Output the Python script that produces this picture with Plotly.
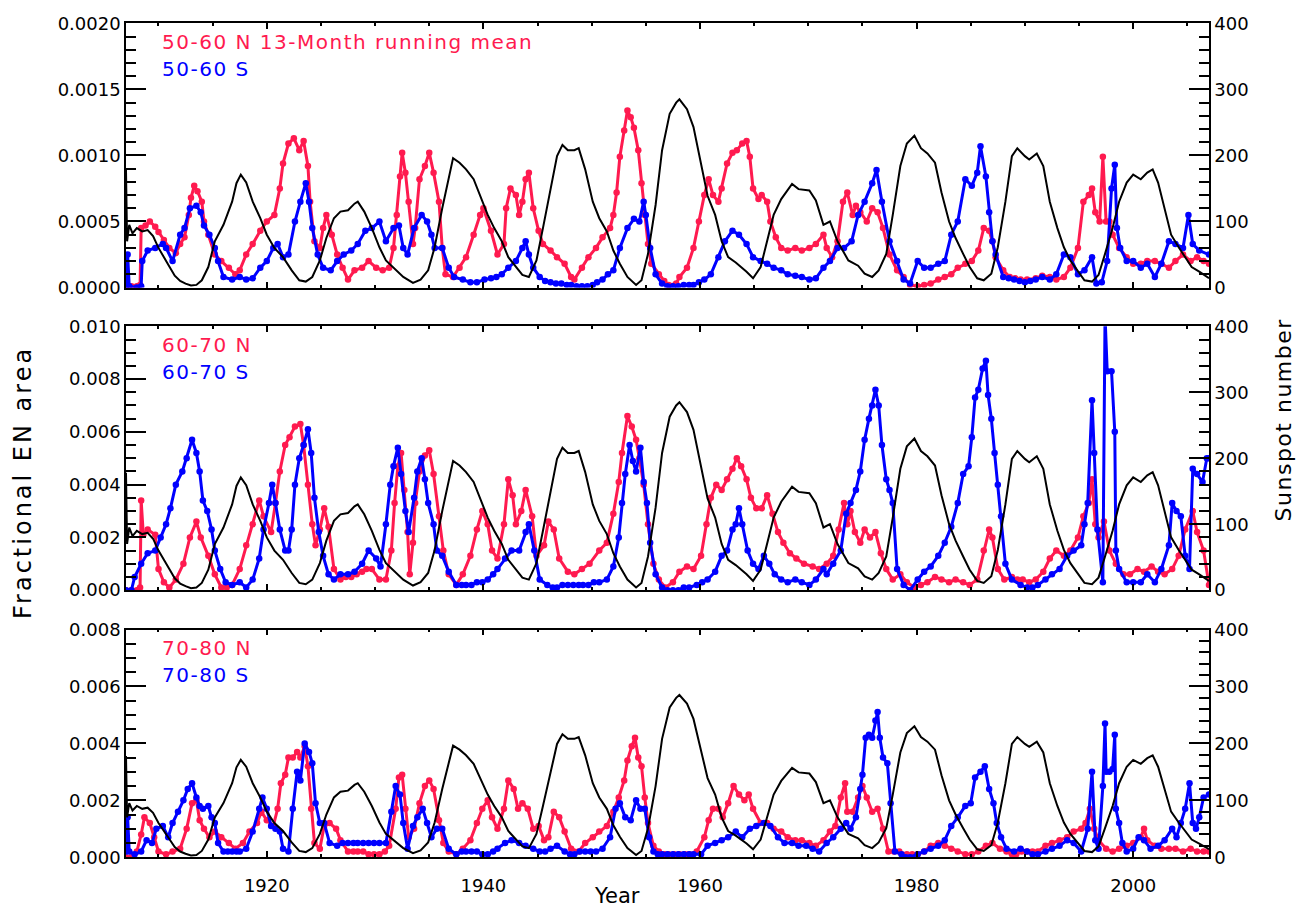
import plotly.graph_objects as go

# ---------------- data ----------------
# 13-month running-mean sunspot number (right axis, 0-400) as (year, value)
ssn = [(1907.0,178),(1907.1,70),(1907.3,95),(1907.6,82),(1908.0,90),(1908.5,85),(1909.0,87),(1909.5,78),
       (1910.0,60),(1910.5,45),(1911.0,32),(1911.5,18),(1912.0,10),(1912.5,6),(1913.0,3),(1913.5,4),
       (1914.0,11),(1914.6,31),(1915.2,70),(1916.0,95),(1916.8,130),(1917.2,158),(1917.6,171),(1918.1,159),
       (1918.7,130),(1919.4,105),(1920.0,80),(1920.7,60),(1921.5,46),(1922.3,26),(1923.0,11),(1923.6,9),
       (1924.2,16),(1924.9,41),(1925.5,75),(1926.2,105),(1926.8,115),(1927.5,117),(1928.1,127),(1928.4,130),
       (1929.0,115),(1929.7,90),(1930.4,61),(1931.0,41),(1932.0,26),(1932.6,16),(1933.5,7),(1934.2,12),
       (1934.9,26),(1935.5,61),(1936.2,120),(1936.8,169),(1937.2,196),(1937.8,189),(1938.4,179),(1939.1,164),
       (1939.7,139),(1940.4,110),(1941.0,90),(1941.7,70),(1942.3,46),(1943.0,31),(1943.6,19),(1944.2,16),
       (1944.9,41),(1945.5,90),(1946.2,149),(1946.8,199),(1947.3,216),(1947.8,208),(1948.4,208),(1948.8,211),
       (1949.4,179),(1950.1,130),(1950.7,105),(1951.4,85),(1952.0,56),(1952.6,36),(1953.3,16),(1954.1,4),
       (1954.6,11),(1955.2,51),(1955.9,125),(1956.5,208),(1957.2,263),(1957.8,280),(1958.1,285),(1958.8,270),
       (1959.4,243),(1960.1,184),(1960.7,139),(1961.4,110),(1962.0,70),(1962.6,46),(1963.3,38),(1964.3,24),
       (1964.9,14),(1965.6,31),(1966.2,70),(1966.8,110),(1967.5,134),(1968.5,157),(1969.1,149),(1970.1,147),
       (1970.7,132),(1971.4,95),(1972.0,100),(1972.7,70),(1973.7,41),(1974.6,33),(1975.2,21),(1975.9,16),
       (1976.5,26),(1977.2,51),(1977.8,110),(1978.5,184),(1979.1,218),(1979.8,230),(1980.4,211),(1981.0,203),
       (1981.7,189),(1982.3,144),(1983.0,100),(1983.6,75),(1984.3,51),(1984.9,31),(1985.6,14),(1986.2,11),
       (1986.9,21),(1987.5,61),(1988.2,130),(1988.8,199),(1989.3,211),(1990.0,199),(1990.4,194),(1991.1,203),
       (1991.7,184),(1992.3,130),(1993.0,90),(1993.6,61),(1994.2,41),(1994.9,24),(1995.5,11),(1996.2,9),
       (1996.8,19),(1997.4,51),(1998.1,90),(1998.7,130),(1999.4,159),(2000.0,171),(2000.7,164),(2001.3,174),
       (2001.8,179),(2002.3,159),(2002.9,120),(2003.5,80),(2004.2,61),(2004.8,46),(2005.4,31),(2006.1,24),
       (2007.0,14)]

# 50-60 deg, units of 1e-4
n50_60 = [(1907.0,0.1),(1907.5,0.1),(1908.0,0.1),(1908.3,0.2),(1908.4,4.5),(1908.8,4.7),(1909.2,5.0),(1909.7,4.6),
          (1910.0,4.2),(1910.5,3.6),(1911.0,3.0),(1911.6,2.6),(1912.0,3.3),(1912.4,3.8),(1912.8,5.5),(1913.0,6.8),
          (1913.3,7.7),(1913.6,7.3),(1914.0,6.5),(1914.2,5.0),(1914.6,4.0),(1915.2,2.5),(1915.8,2.0),(1916.5,1.5),
          (1917.1,1.0),(1917.5,1.3),(1918.1,2.5),(1918.7,3.3),(1919.4,4.3),(1920.0,5.0),(1920.7,5.5),(1921.2,7.5),
          (1921.5,9.4),(1922.0,10.9),(1922.5,11.3),(1923.0,10.4),(1923.4,11.1),(1923.8,9.2),(1924.0,6.5),(1924.4,3.5),
          (1924.9,3.0),(1925.2,4.5),(1925.5,5.5),(1926.0,4.0),(1926.5,2.5),(1927.0,1.5),(1927.5,0.6),(1928.1,1.3),
          (1928.8,1.5),(1929.4,2.0),(1930.1,1.5),(1930.7,1.3),(1931.3,1.5),(1931.7,3.0),(1932.0,5.5),(1932.3,8.4),
          (1932.5,10.2),(1932.8,8.7),(1933.1,6.5),(1933.5,3.3),(1933.7,4.5),(1934.1,8.2),(1934.6,9.2),(1935.0,10.2),
          (1935.4,8.7),(1935.9,6.5),(1936.2,3.0),(1936.5,1.0),(1937.2,0.8),(1937.8,1.5),(1938.4,2.3),(1939.1,4.0),
          (1939.7,5.5),(1940.0,6.0),(1940.7,4.3),(1941.3,2.5),(1941.9,3.3),(1942.1,6.0),(1942.5,7.5),(1943.0,7.0),
          (1943.3,5.5),(1943.6,6.5),(1943.9,8.2),(1944.2,8.7),(1944.6,6.0),(1945.1,4.3),(1945.5,3.3),(1946.2,2.8),
          (1946.8,2.3),(1947.5,1.8),(1948.1,0.8),(1948.4,0.6),(1949.1,1.5),(1949.7,2.3),(1950.4,3.0),(1951.0,3.8),
          (1951.7,4.5),(1952.0,5.5),(1952.3,7.2),(1952.6,9.9),(1953.0,11.9),(1953.3,13.4),(1953.6,12.9),(1953.9,12.1),
          (1954.3,10.4),(1954.6,7.9),(1954.9,5.5),(1955.2,3.3),(1955.5,1.8),(1956.2,1.0),(1956.7,0.5),(1957.1,0.2),
          (1957.8,0.3),(1958.1,0.8),(1958.8,1.5),(1959.4,3.0),(1959.9,5.0),(1960.4,7.0),(1960.8,8.2),(1961.2,7.0),
          (1961.7,6.5),(1962.0,7.5),(1962.5,9.4),(1963.0,10.2),(1963.4,10.4),(1963.9,10.9),(1964.3,11.1),(1964.6,9.9),
          (1964.9,7.5),(1965.4,6.7),(1965.7,7.0),(1966.2,6.5),(1966.5,5.0),(1967.0,3.8),(1967.5,3.0),(1968.1,2.8),
          (1968.8,3.0),(1969.4,2.8),(1970.1,3.0),(1970.7,3.3),(1971.4,4.0),(1971.7,3.0),(1972.2,2.3),(1972.7,3.5),
          (1973.2,6.5),(1973.6,7.2),(1974.1,5.5),(1974.4,6.2),(1974.8,5.7),(1975.4,5.0),(1975.9,6.0),(1976.4,5.7),
          (1976.9,4.5),(1977.5,2.5),(1978.2,1.3),(1978.8,0.8),(1979.4,0.2),(1980.1,0.1),(1980.7,0.2),(1981.3,0.3),
          (1982.0,0.6),(1982.6,0.8),(1983.2,1.0),(1983.8,1.5),(1984.5,1.8),(1985.1,2.0),(1985.7,2.8),(1986.2,4.5),
          (1986.7,4.3),(1987.0,3.5),(1987.3,2.3),(1988.0,1.3),(1988.6,0.8),(1989.1,0.7),(1989.6,0.6),(1990.2,0.6),
          (1991.0,0.7),(1991.6,0.9),(1992.3,0.8),(1992.9,0.6),(1993.6,0.8),(1994.2,1.5),(1994.9,3.0),(1995.4,6.5),
          (1995.9,7.0),(1996.2,7.5),(1996.5,5.7),(1996.9,5.0),(1997.2,9.9),(1997.5,5.0),(1997.8,5.0),(1998.1,4.0),
          (1998.7,3.0),(1999.4,2.3),(2000.0,1.8),(2000.7,1.8),(2001.3,2.0),(2002.0,2.0),(2002.6,1.8),(2003.3,1.5),
          (2003.9,2.0),(2004.6,2.5),(2005.3,2.0),(2005.9,2.3),(2006.5,2.0),(2007.0,1.8)]

s50_60 = [(1907.0,0.1),(1907.15,2.5),(1907.3,0.1),(1908.0,0.0),(1908.4,0.1),(1908.5,2.0),(1909.0,2.8),(1909.7,3.0),
          (1910.4,3.3),(1910.7,3.0),(1911.3,2.0),(1912.0,4.0),(1912.4,4.5),(1912.9,6.0),(1913.5,6.2),(1913.9,5.7),
          (1914.2,4.7),(1914.7,4.0),(1915.2,3.0),(1915.5,2.0),(1916.0,0.8),(1916.8,0.6),(1917.5,0.8),(1918.1,0.6),
          (1918.7,0.7),(1919.4,1.5),(1920.0,2.0),(1920.6,3.0),(1921.0,3.3),(1921.5,2.3),(1922.0,2.5),(1922.6,5.0),
          (1923.1,6.5),(1923.6,7.9),(1923.9,6.5),(1924.2,4.5),(1924.7,2.5),(1925.2,1.5),(1925.9,1.3),(1926.5,2.0),
          (1927.1,2.5),(1927.8,2.8),(1928.4,3.3),(1929.1,4.3),(1929.7,4.5),(1930.4,5.0),(1931.0,3.5),(1931.7,4.5),
          (1932.2,4.7),(1932.6,3.0),(1933.0,2.5),(1933.6,4.5),(1934.3,5.5),(1934.8,5.0),(1935.2,4.0),(1935.5,3.0),
          (1936.2,3.0),(1936.8,1.5),(1937.3,0.8),(1938.1,0.6),(1938.8,0.4),(1939.4,0.4),(1940.1,0.6),(1940.7,0.7),
          (1941.2,0.8),(1941.7,1.0),(1942.3,1.5),(1943.0,2.0),(1943.6,3.0),(1943.9,3.5),(1944.2,2.5),(1944.6,1.5),
          (1945.2,0.8),(1945.7,0.5),(1946.2,0.4),(1946.7,0.3),(1947.2,0.3),(1947.7,0.2),(1948.1,0.2),(1948.6,0.1),
          (1949.1,0.1),(1949.6,0.1),(1950.1,0.2),(1950.5,0.4),(1951.0,0.6),(1951.5,1.0),(1952.0,1.3),(1952.6,3.0),
          (1953.3,4.5),(1953.9,5.2),(1954.4,5.0),(1954.8,6.5),(1955.0,5.5),(1955.4,3.0),(1955.9,1.0),(1956.5,0.3),
          (1957.0,0.1),(1957.5,0.1),(1958.0,0.1),(1958.5,0.2),(1959.0,0.2),(1959.4,0.2),(1959.9,0.4),(1960.4,0.6),
          (1961.0,1.0),(1961.7,2.3),(1962.3,3.5),(1963.0,4.3),(1963.6,4.0),(1964.3,3.3),(1964.9,2.3),(1965.6,2.0),
          (1966.2,1.8),(1966.8,1.5),(1967.5,1.3),(1968.1,1.0),(1968.8,0.9),(1969.4,0.8),(1970.1,0.6),(1970.7,0.7),
          (1971.4,1.5),(1972.0,2.0),(1972.7,3.0),(1973.3,3.0),(1974.0,3.5),(1974.6,5.5),(1975.2,6.5),(1975.9,7.9),
          (1976.3,8.9),(1976.8,6.5),(1977.5,3.5),(1978.2,2.0),(1978.8,0.6),(1979.4,0.3),(1980.1,2.0),(1980.7,1.5),
          (1981.3,1.5),(1982.0,1.8),(1982.6,2.0),(1983.2,4.0),(1983.8,5.0),(1984.5,8.2),(1985.1,7.7),(1985.6,8.7),
          (1985.9,10.7),(1986.4,8.4),(1986.7,5.7),(1987.0,3.5),(1987.3,2.5),(1988.0,0.8),(1988.5,0.7),(1989.0,0.6),
          (1989.5,0.5),(1990.0,0.4),(1990.5,0.5),(1991.0,0.6),(1991.6,0.8),(1992.3,0.6),(1992.9,1.0),(1993.6,2.5),
          (1994.2,2.3),(1994.9,1.0),(1995.5,1.3),(1996.2,2.3),(1996.6,0.3),(1997.1,0.4),(1997.6,2.0),(1998.0,7.5),
          (1998.3,9.3),(1998.5,4.5),(1998.8,3.0),(1999.4,2.0),(2000.0,2.0),(2000.7,1.5),(2001.3,1.8),(2002.0,0.8),
          (2002.6,1.8),(2003.3,3.5),(2003.9,3.3),(2004.6,3.0),(2005.1,5.5),(2005.5,3.3),(2006.1,2.8),(2007.0,2.5)]

# 60-70 deg, units of 1e-3
n60_70 = [(1907.0,0.0),(1907.5,0.0),(1908.0,0.0),(1908.3,0.1),(1908.4,3.4),(1908.6,2.1),(1909.0,2.3),(1909.7,2.1),
          (1910.0,0.8),(1910.5,0.3),(1911.0,0.1),(1911.6,0.4),(1912.3,1.0),(1912.9,2.0),(1913.5,2.6),(1913.9,2.0),
          (1914.6,1.3),(1915.2,0.6),(1915.8,0.1),(1916.3,0.1),(1916.8,0.2),(1917.5,0.8),(1918.1,1.7),(1918.7,2.5),
          (1919.3,3.4),(1919.7,2.8),(1920.4,2.2),(1920.8,3.3),(1921.2,4.5),(1921.7,5.5),(1922.1,5.8),(1922.6,6.2),
          (1923.1,6.3),(1923.4,5.5),(1923.8,4.0),(1924.2,2.5),(1924.5,1.7),(1924.9,2.3),(1925.3,3.1),(1925.7,2.4),
          (1926.2,0.8),(1926.8,0.4),(1927.3,0.5),(1927.8,0.5),(1928.3,0.6),(1928.8,0.7),(1929.2,0.8),(1929.7,0.8),
          (1930.4,0.4),(1931.0,0.4),(1931.5,1.5),(1931.8,3.3),(1932.1,4.7),(1932.4,5.2),(1932.7,3.8),(1933.0,2.2),
          (1933.2,0.6),(1933.5,1.8),(1933.7,3.3),(1934.1,4.5),(1934.6,5.1),(1935.0,5.3),(1935.4,4.4),(1935.9,2.8),
          (1936.3,1.5),(1936.8,0.6),(1937.5,0.2),(1938.1,0.6),(1938.8,1.3),(1939.4,2.3),(1939.9,3.0),(1940.4,2.5),
          (1940.8,1.5),(1941.3,1.2),(1941.9,2.5),(1942.3,4.2),(1942.7,3.6),(1943.0,2.5),(1943.5,3.0),(1943.9,3.8),
          (1944.5,2.8),(1944.9,1.3),(1945.6,1.7),(1946.0,2.6),(1946.5,2.3),(1947.0,1.2),(1947.8,0.7),(1948.4,0.6),
          (1949.1,0.8),(1949.8,1.0),(1950.7,1.5),(1951.4,1.8),(1952.0,2.9),(1952.5,4.1),(1952.8,5.2),(1953.3,6.6),
          (1953.7,6.2),(1954.1,5.7),(1954.4,5.0),(1954.8,4.0),(1955.2,2.5),(1955.7,1.0),(1956.2,0.4),(1956.8,0.1),
          (1957.5,0.3),(1958.1,0.7),(1958.8,0.9),(1959.4,0.8),(1960.1,1.3),(1960.6,2.5),(1961.0,3.5),(1961.5,4.0),
          (1962.0,3.8),(1962.5,4.2),(1963.0,4.6),(1963.4,5.0),(1963.8,4.7),(1964.3,4.2),(1964.7,3.5),(1965.2,3.1),
          (1965.7,3.1),(1966.2,3.6),(1966.7,2.9),(1967.2,2.2),(1967.7,1.8),(1968.3,1.4),(1968.9,1.2),(1969.6,1.0),
          (1970.4,0.9),(1971.0,0.8),(1971.7,1.0),(1972.3,1.3),(1972.8,2.3),(1973.3,3.3),(1973.6,2.5),(1973.9,3.0),
          (1974.3,2.2),(1974.8,1.8),(1975.2,2.3),(1975.7,2.0),(1976.2,2.2),(1976.7,1.4),(1977.2,0.8),(1977.8,0.4),
          (1978.5,0.6),(1979.1,0.3),(1979.8,0.1),(1980.4,0.2),(1981.0,0.3),(1981.7,0.5),(1982.3,0.4),(1983.0,0.3),
          (1983.6,0.4),(1984.3,0.3),(1984.9,0.2),(1985.6,0.4),(1986.2,1.5),(1986.7,2.3),(1987.0,2.0),(1987.5,0.8),
          (1988.1,0.4),(1988.8,0.5),(1989.3,0.4),(1989.8,0.4),(1990.4,0.3),(1991.0,0.4),(1991.7,0.7),(1992.3,1.2),
          (1992.9,1.5),(1993.6,1.3),(1994.2,1.5),(1994.9,2.0),(1995.4,2.8),(1995.9,3.3),(1996.2,4.2),(1996.5,2.5),
          (1996.8,2.0),(1997.3,2.6),(1997.8,1.5),(1998.4,1.0),(1999.1,0.6),(1999.7,0.6),(2000.4,0.8),(2001.0,0.7),
          (2001.7,0.9),(2002.3,0.7),(2002.9,0.6),(2003.6,0.8),(2004.2,1.3),(2004.8,2.3),(2005.5,3.0),(2005.9,2.2),
          (2006.5,1.5),(2007.0,0.2)]

s60_70 = [(1907.0,0.0),(1907.5,0.0),(1907.8,0.5),(1908.4,1.0),(1909.0,1.4),(1909.7,1.5),(1910.2,2.0),(1910.7,2.5),
          (1911.1,3.1),(1911.6,4.0),(1912.2,4.5),(1912.6,5.0),(1913.1,5.7),(1913.5,5.2),(1913.8,4.5),(1914.1,3.4),
          (1914.5,3.0),(1914.9,2.3),(1915.2,1.5),(1915.7,0.8),(1916.2,0.3),(1916.8,0.2),(1917.5,0.3),(1918.1,0.1),
          (1918.7,0.4),(1919.3,1.2),(1919.7,2.3),(1920.2,3.3),(1920.5,4.0),(1920.8,3.3),(1921.2,2.3),(1921.7,1.5),
          (1922.0,1.5),(1922.3,2.3),(1922.6,4.0),(1923.0,5.0),(1923.4,5.5),(1923.8,6.1),(1924.1,5.2),(1924.4,3.5),
          (1924.8,2.2),(1925.2,1.3),(1925.7,0.6),(1926.2,0.4),(1926.8,0.6),(1927.5,0.6),(1928.1,0.7),(1928.8,1.0),
          (1929.4,1.5),(1930.1,1.2),(1930.5,0.9),(1931.0,2.5),(1931.4,4.0),(1931.7,4.7),(1932.1,5.4),(1932.4,4.4),
          (1932.8,3.0),(1933.1,2.2),(1933.6,3.5),(1933.9,4.5),(1934.3,5.0),(1934.6,4.2),(1934.9,3.3),(1935.4,2.5),
          (1935.7,1.5),(1936.2,1.3),(1936.8,0.7),(1937.5,0.2),(1938.0,0.2),(1938.4,0.2),(1938.9,0.2),(1939.4,0.3),
          (1939.9,0.3),(1940.4,0.4),(1940.9,0.6),(1941.3,0.8),(1942.0,1.2),(1942.6,1.5),(1943.3,1.5),(1943.9,2.2),
          (1944.2,2.5),(1944.7,1.5),(1945.2,0.4),(1945.9,0.2),(1946.4,0.1),(1946.8,0.1),(1947.3,0.2),(1947.8,0.2),
          (1948.3,0.2),(1948.8,0.2),(1949.2,0.2),(1949.7,0.2),(1950.2,0.3),(1950.7,0.3),(1951.4,0.4),(1952.0,0.9),
          (1952.5,2.0),(1952.8,3.3),(1953.1,4.4),(1953.5,5.5),(1953.8,4.9),(1954.1,4.5),(1954.5,5.4),(1954.8,4.1),
          (1955.1,3.3),(1955.4,1.8),(1955.9,0.6),(1956.5,0.1),(1957.0,0.0),(1957.5,0.0),(1958.0,0.0),(1958.5,0.1),
          (1959.0,0.1),(1959.7,0.2),(1960.2,0.3),(1960.7,0.4),(1961.4,0.7),(1962.0,1.3),(1962.5,1.5),(1963.0,2.3),
          (1963.3,2.5),(1963.6,3.1),(1963.9,2.5),(1964.4,1.5),(1964.9,1.0),(1965.4,0.8),(1965.9,1.3),(1966.4,1.0),
          (1966.9,0.6),(1967.5,0.4),(1968.1,0.3),(1968.8,0.4),(1969.4,0.3),(1970.1,0.2),(1970.7,0.4),(1971.4,0.8),
          (1971.7,0.6),(1972.3,1.0),(1973.0,1.5),(1973.5,2.9),(1973.9,3.3),(1974.4,3.8),(1974.8,4.5),(1975.2,5.7),
          (1975.6,6.5),(1975.9,7.0),(1976.2,7.6),(1976.5,7.0),(1976.8,5.5),(1977.2,4.2),(1977.5,3.8),(1977.8,3.3),
          (1978.2,0.8),(1978.8,0.2),(1979.4,0.0),(1980.1,0.4),(1980.7,0.7),(1981.3,0.9),(1982.0,1.3),(1982.6,1.8),
          (1983.2,2.4),(1983.8,3.3),(1984.3,4.4),(1984.8,4.7),(1985.1,5.8),(1985.4,7.3),(1985.7,7.6),(1986.1,8.4),
          (1986.4,8.7),(1986.6,7.4),(1986.9,6.5),(1987.2,5.2),(1987.5,4.0),(1987.8,2.8),(1988.2,1.0),(1988.8,0.4),
          (1989.6,0.2),(1990.2,0.1),(1990.7,0.1),(1991.2,0.2),(1991.9,0.4),(1992.5,0.6),(1993.2,0.8),(1993.9,1.3),
          (1994.5,1.5),(1995.2,1.7),(1995.5,2.5),(1995.8,3.3),(1996.2,7.2),(1996.4,5.2),(1996.7,2.3),(1997.2,0.3),
          (1997.4,10.4),(1997.6,8.3),(1998.0,8.3),(1998.3,6.0),(1998.4,1.5),(1998.7,0.8),(1999.4,0.3),(2000.0,0.3),
          (2000.7,0.3),(2001.3,0.6),(2002.0,0.3),(2002.6,0.8),(2003.3,1.7),(2003.6,3.3),(2004.0,3.0),(2004.4,2.8),
          (2004.8,1.3),(2005.2,0.8),(2005.5,4.6),(2005.9,4.4),(2006.4,4.1),(2006.8,5.0),(2007.0,5.0)]

# 70-80 deg, units of 1e-3
n70_80 = [(1907.0,0.0),(1907.5,0.0),(1908.0,0.2),(1908.4,0.8),(1908.7,1.4),(1909.2,1.2),(1909.6,0.7),(1910.0,0.2),
          (1910.7,0.1),(1911.3,0.2),(1912.0,0.3),(1912.6,1.0),(1913.1,1.9),(1913.5,2.0),(1913.8,1.3),(1914.2,1.0),
          (1914.7,0.7),(1915.2,0.9),(1915.8,0.7),(1916.5,0.5),(1917.1,0.3),(1917.8,0.5),(1918.4,0.9),(1919.1,1.2),
          (1919.5,1.6),(1920.0,1.3),(1920.6,1.1),(1921.0,1.7),(1921.3,2.6),(1921.7,2.9),(1922.0,3.5),(1922.4,3.5),
          (1922.8,3.7),(1923.1,3.5),(1923.5,3.9),(1923.8,3.2),(1924.1,1.7),(1924.4,0.5),(1924.9,0.3),(1925.3,1.1),
          (1925.8,1.2),(1926.4,1.0),(1926.8,0.6),(1927.5,0.2),(1928.0,0.2),(1928.4,0.2),(1928.9,0.2),(1929.4,0.1),
          (1929.9,0.1),(1930.4,0.1),(1930.9,0.2),(1931.3,0.4),(1931.9,1.7),(1932.2,2.8),(1932.5,2.9),(1932.8,1.7),
          (1933.1,0.7),(1933.6,1.0),(1934.1,1.9),(1934.6,2.5),(1935.0,2.7),(1935.4,2.4),(1935.9,1.3),(1936.3,0.5),
          (1936.8,0.2),(1937.5,0.1),(1938.1,0.3),(1938.8,0.6),(1939.4,1.2),(1939.9,1.7),(1940.4,2.0),(1940.8,1.4),
          (1941.3,1.0),(1941.9,1.7),(1942.3,2.7),(1942.8,2.4),(1943.2,1.7),(1943.6,1.9),(1944.1,1.7),(1944.6,1.0),
          (1945.1,1.1),(1945.6,0.6),(1946.0,0.7),(1946.5,1.6),(1947.0,1.4),(1947.5,0.9),(1948.1,0.3),(1948.8,0.2),
          (1949.4,0.5),(1950.1,0.7),(1950.7,0.9),(1951.4,1.1),(1952.0,1.6),(1952.5,2.1),(1953.0,2.7),(1953.3,3.4),
          (1953.7,3.9),(1954.0,4.2),(1954.3,3.5),(1954.6,3.2),(1954.9,2.1),(1955.2,1.2),(1955.7,0.4),(1956.2,0.2),
          (1956.7,0.1),(1957.1,0.1),(1957.6,0.1),(1958.1,0.1),(1958.6,0.1),(1959.0,0.1),(1959.7,0.2),(1960.4,0.7),
          (1960.8,1.3),(1961.2,1.7),(1961.7,1.7),(1962.1,1.4),(1962.6,1.9),(1963.1,2.5),(1963.6,2.2),(1964.1,2.0),
          (1964.5,2.2),(1964.9,1.7),(1965.6,1.2),(1966.2,1.2),(1966.8,1.0),(1967.5,0.9),(1968.1,0.7),(1968.8,0.6),
          (1969.4,0.6),(1970.1,0.5),(1970.7,0.4),(1971.4,0.6),(1972.0,0.9),(1972.5,1.1),(1973.0,2.1),(1973.4,2.6),
          (1973.6,1.6),(1974.1,1.6),(1974.6,2.1),(1975.0,2.5),(1975.4,2.1),(1975.9,1.6),(1976.4,1.7),(1976.9,1.0),
          (1977.4,0.2),(1977.9,0.2),(1978.4,0.2),(1979.1,0.1),(1979.6,0.1),(1980.1,0.1),(1980.7,0.2),(1981.3,0.4),
          (1982.0,0.5),(1982.6,0.4),(1983.2,0.3),(1983.8,0.2),(1984.5,0.1),(1985.1,0.1),(1985.7,0.2),(1986.4,0.4),
          (1987.0,0.5),(1987.7,0.3),(1988.3,0.2),(1988.8,0.1),(1989.2,0.1),(1989.7,0.2),(1990.2,0.2),(1990.7,0.2),
          (1991.2,0.2),(1991.9,0.4),(1992.5,0.5),(1993.2,0.6),(1993.9,0.7),(1994.5,0.9),(1995.2,1.0),(1995.6,1.2),
          (1996.0,1.7),(1996.4,1.0),(1996.8,0.6),(1997.5,0.3),(1998.1,0.2),(1998.7,0.3),(1999.4,0.4),(2000.0,0.5),
          (2000.7,0.7),(2001.0,1.0),(2001.3,0.6),(2002.0,0.4),(2002.6,0.3),(2003.3,0.3),(2003.9,0.3),(2004.6,0.2),
          (2005.3,0.3),(2005.9,0.2),(2006.5,0.2),(2007.0,0.2)]

s70_80 = [(1907.0,0.2),(1907.15,1.4),(1907.3,0.2),(1907.8,0.1),(1908.4,0.2),(1908.9,0.6),(1909.4,0.5),(1909.8,1.0),
          (1910.4,1.1),(1910.9,0.7),(1911.3,1.2),(1911.8,1.6),(1912.3,2.0),(1912.7,2.4),(1913.1,2.6),(1913.5,2.1),
          (1913.8,1.8),(1914.1,1.7),(1914.6,1.8),(1914.9,1.4),(1915.2,1.2),(1915.5,0.5),(1916.0,0.2),(1916.4,0.2),
          (1916.8,0.2),(1917.2,0.2),(1917.5,0.2),(1918.1,0.3),(1918.7,0.9),(1919.3,1.7),(1919.6,2.1),(1920.0,1.7),
          (1920.4,1.1),(1920.8,1.0),(1921.2,0.9),(1921.5,0.3),(1922.0,0.2),(1922.4,1.7),(1922.8,3.0),(1923.1,2.7),
          (1923.5,4.0),(1923.9,3.7),(1924.2,3.3),(1924.5,1.9),(1924.9,1.2),(1925.3,1.2),(1925.8,0.5),(1926.5,0.4),
          (1927.0,0.5),(1927.5,0.5),(1928.0,0.5),(1928.4,0.5),(1928.9,0.5),(1929.4,0.5),(1929.9,0.5),(1930.4,0.5),
          (1931.0,0.5),(1931.5,1.6),(1931.9,2.5),(1932.3,2.2),(1932.6,1.2),(1933.0,0.3),(1933.5,1.1),(1933.9,1.4),
          (1934.4,1.7),(1934.8,1.2),(1935.2,0.7),(1935.7,1.0),(1936.2,1.0),(1936.8,0.3),(1937.5,0.1),(1938.0,0.2),
          (1938.4,0.2),(1938.9,0.2),(1939.4,0.2),(1939.9,0.1),(1940.4,0.1),(1940.9,0.2),(1941.3,0.3),(1942.0,0.5),
          (1942.6,0.6),(1943.3,0.5),(1943.9,0.4),(1944.6,0.3),(1945.2,0.2),(1945.7,0.2),(1946.2,0.3),(1946.8,0.4),
          (1947.5,0.2),(1948.0,0.1),(1948.4,0.1),(1948.9,0.2),(1949.4,0.2),(1949.9,0.2),(1950.4,0.2),(1951.0,0.3),
          (1951.7,0.7),(1952.2,1.7),(1952.6,1.9),(1953.1,1.4),(1953.6,1.3),(1954.1,2.0),(1954.5,1.7),(1954.9,1.7),
          (1955.3,0.7),(1955.7,0.2),(1956.1,0.1),(1956.5,0.1),(1957.0,0.1),(1957.5,0.1),(1958.0,0.1),(1958.5,0.1),
          (1959.0,0.1),(1959.4,0.1),(1960.1,0.1),(1960.7,0.4),(1961.4,0.5),(1962.0,0.6),(1962.6,0.7),(1963.3,0.9),
          (1963.9,0.7),(1964.6,1.0),(1965.2,1.1),(1965.9,1.2),(1966.5,1.1),(1967.2,0.7),(1967.8,0.5),(1968.5,0.5),
          (1969.1,0.4),(1969.8,0.4),(1970.4,0.3),(1971.0,0.2),(1971.7,0.5),(1972.3,0.7),(1973.0,1.0),(1973.5,1.2),
          (1973.9,1.0),(1974.4,1.4),(1974.8,2.4),(1975.0,2.9),(1975.3,4.2),(1975.6,4.3),(1975.9,4.2),(1976.2,4.8),
          (1976.4,5.1),(1976.6,4.2),(1976.9,3.5),(1977.3,3.3),(1977.6,1.9),(1978.0,0.2),(1978.6,0.1),(1979.0,0.0),
          (1979.4,0.0),(1980.1,0.1),(1980.7,0.2),(1981.3,0.3),(1982.0,0.4),(1982.6,0.6),(1983.2,1.1),(1983.8,1.4),
          (1984.5,1.8),(1985.0,1.9),(1985.4,2.8),(1985.9,3.0),(1986.3,3.2),(1986.7,2.4),(1987.1,1.9),(1987.4,1.2),
          (1987.8,0.7),(1988.3,0.3),(1989.0,0.2),(1989.6,0.3),(1990.2,0.2),(1990.7,0.1),(1991.2,0.1),(1991.9,0.2),
          (1992.5,0.3),(1993.2,0.4),(1993.9,0.6),(1994.5,0.5),(1995.2,0.2),(1995.8,1.0),(1996.2,3.0),(1996.5,0.6),
          (1996.8,0.3),(1997.2,2.5),(1997.4,4.7),(1997.5,3.0),(1997.8,3.0),(1998.1,3.1),(1998.3,4.3),(1998.4,1.7),
          (1998.7,1.2),(1999.0,0.5),(1999.4,0.2),(2000.0,0.3),(2000.5,0.7),(2001.0,0.6),(2001.6,0.3),(2002.3,0.4),
          (2002.9,0.6),(2003.6,1.0),(2004.0,0.7),(2004.4,1.2),(2004.8,1.7),(2005.2,2.6),(2005.5,1.2),(2005.8,1.0),
          (2006.1,1.4),(2006.5,2.1),(2007.0,2.2)]

labels_n = ["50-60 N 13-Month running mean", "60-70 N", "70-80 N"]
labels_s = ["50-60 S", "60-70 S", "70-80 S"]
y_max = [0.0020, 0.010, 0.008]
y_dtick = [0.0005, 0.002, 0.002]
y_minor = [0.0001, 0.0005, 0.0005]
y_fmt = [".4f", ".3f", ".3f"]
unit = [1e-4, 1e-3, 1e-3]
north = [n50_60, n60_70, n70_80]
south = [s50_60, s60_70, s70_80]

# ---------------- layout geometry (pixels of the 1299x919 page) ----------------
W, H = 1299, 919
X0, X1 = 126, 1209
panel_px = [(12.7, 283.0), (322.7, 592.7), (633.0, 866.0)]
RED = "#FF1A4F"
BLUE = "#0000FF"
FONT = "DejaVu Sans"


def spaced(text, px):
    return f'<span style="letter-spacing:{px}px">{text}</span>'


fig = go.Figure()
layout = dict(
    width=W, height=H, margin=dict(l=0, r=0, t=0, b=0),
    paper_bgcolor="white", plot_bgcolor="white", showlegend=False,
    font=dict(family=FONT, size=18, color="black"),
    annotations=[],
)

tick_common = dict(ticks="inside", tickcolor="black", tickwidth=1.5,
                   showline=True, linecolor="black", linewidth=1.5,
                   showgrid=False, zeroline=False,
                   tickfont=dict(family=FONT, size=18, color="black"))

for i in range(3):
    xa = "x" if i == 0 else f"x{i+1}"
    yl = "y" if i == 0 else f"y{2*i+1}"
    yr = f"y{2*i+2}"
    xname = "xaxis" if i == 0 else f"xaxis{i+1}"
    ylname = "yaxis" if i == 0 else f"yaxis{2*i+1}"
    yrname = f"yaxis{2*i+2}"
    top, bot = panel_px[i]
    dom = [1 - bot / H, 1 - top / H]

    layout[xname] = dict(domain=[X0 / W, X1 / W], anchor=yl, range=[1907, 2007],
                         tickmode="linear", tick0=1920, dtick=20, ticklen=6,
                         mirror="ticks", showticklabels=(i == 2), ticklabelstandoff=11,
                         minor=dict(dtick=5, tick0=1905, ticks="inside", ticklen=3,
                                    tickwidth=1.5, tickcolor="black", showgrid=False),
                         **tick_common)
    layout[ylname] = dict(domain=dom, anchor=xa, range=[0, y_max[i]],
                          tickmode="linear", tick0=0, dtick=y_dtick[i], tickformat=y_fmt[i],
                          ticklen=20, mirror=False,
                          minor=dict(dtick=y_minor[i], tick0=0, ticks="inside", ticklen=10,
                                     tickwidth=1.5, tickcolor="black", showgrid=False),
                          **tick_common)
    layout[yrname] = dict(overlaying=yl, side="right", anchor=xa, range=[0, 400],
                          tickmode="linear", tick0=0, dtick=100, ticklen=20,
                          minor=dict(dtick=20, tick0=0, ticks="inside", ticklen=10,
                                     tickwidth=1.5, tickcolor="black", showgrid=False),
                          **tick_common)

    for series, col in ((north[i], RED), (south[i], BLUE)):
        fig.add_trace(go.Scatter(
            x=[p[0] for p in series], y=[p[1] * unit[i] for p in series],
            xaxis=xa, yaxis=yl, mode="lines+markers",
            line=dict(color=col, width=3),
            marker=dict(color=col, size=6.5, line=dict(width=0)),
            hoverinfo="skip"))
    fig.add_trace(go.Scatter(
        x=[p[0] for p in ssn], y=[p[1] for p in ssn],
        xaxis=xa, yaxis=yr, mode="lines",
        line=dict(color="black", width=2), hoverinfo="skip"))

    # in-panel labels
    layout["annotations"].append(dict(
        text=spaced(labels_n[i], 1.5), x=160 / W, y=1 - (top + 19) / H, xref="paper", yref="paper",
        xanchor="left", yanchor="middle", showarrow=False,
        font=dict(family=FONT, size=20, color=RED)))
    layout["annotations"].append(dict(
        text=spaced(labels_s[i], 1.5), x=160 / W, y=1 - (top + 46.5) / H, xref="paper", yref="paper",
        xanchor="left", yanchor="middle", showarrow=False,
        font=dict(family=FONT, size=20, color=BLUE)))

layout["annotations"] += [
    dict(text=spaced("Fractional EN area", 3), x=23 / W, y=1 - 483 / H, xref="paper", yref="paper",
         textangle=-90, showarrow=False, xanchor="center", yanchor="middle",
         font=dict(family=FONT, size=24, color="black")),
    dict(text=spaced("Sunspot number", 1.5), x=1283 / W, y=1 - 419 / H, xref="paper", yref="paper",
         textangle=-90, showarrow=False, xanchor="center", yanchor="middle",
         font=dict(family=FONT, size=22, color="black")),
    dict(text="Year", x=617 / W, y=1 - 906 / H, xref="paper", yref="paper",
         showarrow=False, xanchor="center", yanchor="middle",
         font=dict(family=FONT, size=21, color="black")),
]

fig.update_layout(**layout)
fig.write_html("out.html")
